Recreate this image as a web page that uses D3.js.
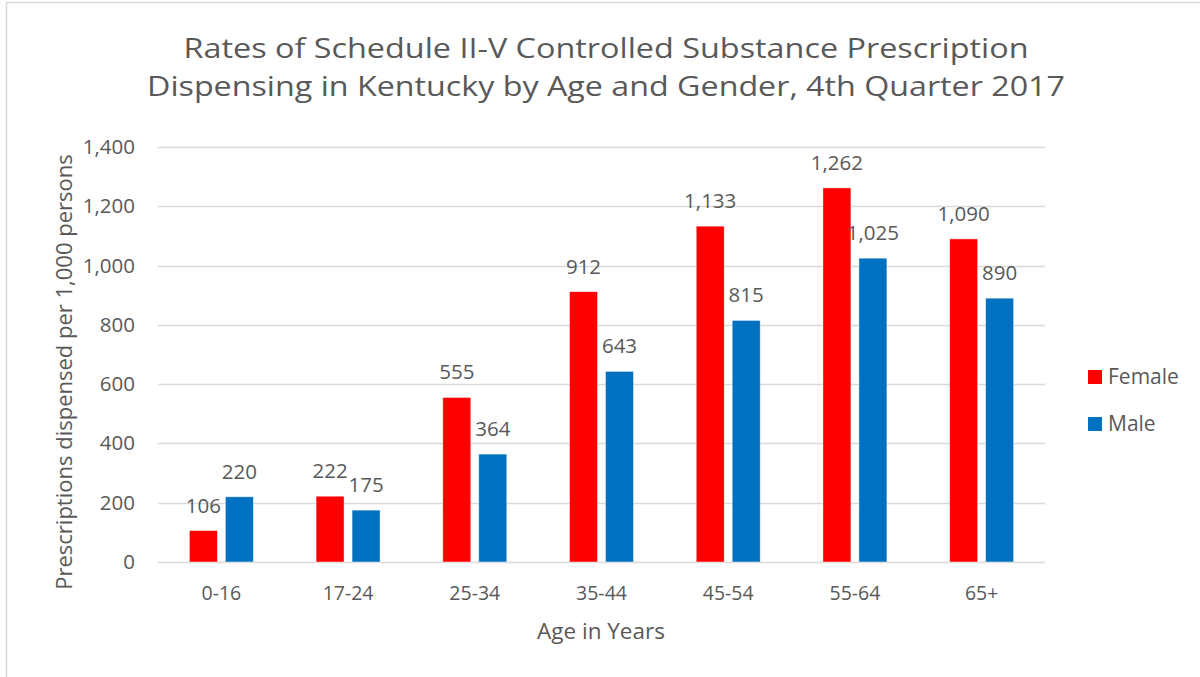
<!DOCTYPE html>
<html>
<head>
<meta charset="utf-8">
<script src="https://cdn.jsdelivr.net/npm/d3@7"></script>
<style>
  body { margin: 0; background: #fff; }
  text { font-family: "Open Sans", "Noto Sans", sans-serif; fill: #595959; }
</style>
</head>
<body>
<div id="chart"></div>
<script>
const WIDTH = 1200;
const HEIGHT = 677;
const PLOT_LEFT = 158;
const PLOT_RIGHT = 1045;
const PLOT_TOP = 147;
const PLOT_BOTTOM = 562;

const ageGroups = ['0-16', '17-24', '25-34', '35-44', '45-54', '55-64', '65+'];
const femaleRates = [106, 222, 555, 912, 1133, 1262, 1090];
const maleRates = [220, 175, 364, 643, 815, 1025, 890];
const yTicks = [0, 200, 400, 600, 800, 1000, 1200, 1400];
const seriesNames = ['Female', 'Male'];
const seriesColors = ['#FF0000', '#0070C0'];
const titleLines = [
  'Rates of Schedule II-V Controlled Substance Prescription',
  'Dispensing in Kentucky by Age and Gender, 4th Quarter 2017'
];

let svg = d3.select('#chart').append('svg')
  .attr('width', WIDTH)
  .attr('height', HEIGHT);

// chart frame (runs off the right and bottom of the picture)
svg.append('rect')
  .attr('x', 6.5).attr('y', 2.5)
  .attr('width', 1300).attr('height', 800)
  .attr('fill', 'none')
  .attr('stroke', '#d9d9d9')
  .attr('stroke-width', 1.5);

let x = d3.scaleBand()
  .domain(ageGroups)
  .range([PLOT_LEFT, PLOT_RIGHT]);

let y = d3.scaleLinear()
  .domain([0, 1400])
  .range([PLOT_BOTTOM, PLOT_TOP]);

let step = x.step();
let barW = step * 0.221;
let barGap = step * 0.063;

// gridlines
svg.append('g').attr('class', 'gridGroup')
  .selectAll('line')
  .data(yTicks)
  .enter()
  .append('line')
  .attr('x1', PLOT_LEFT)
  .attr('x2', PLOT_RIGHT)
  .attr('y1', (d) => Math.round(y(d)) + 0.5)
  .attr('y2', (d) => Math.round(y(d)) + 0.5)
  .attr('stroke', '#d9d9d9')
  .attr('stroke-width', 1.5);

// y tick labels
let fmt = d3.format(',');
svg.append('g').attr('class', 'yAxisGroup')
  .selectAll('text')
  .data(yTicks)
  .enter()
  .append('text')
  .attr('x', 135)
  .attr('y', (d) => y(d) + 7)
  .attr('text-anchor', 'end')
  .attr('font-size', 20.5)
  .text((d) => fmt(d));

// x category labels
svg.append('g').attr('class', 'xAxisGroup')
  .selectAll('text')
  .data(ageGroups)
  .enter()
  .append('text')
  .attr('x', (d) => x(d) + step / 2)
  .attr('y', 600)
  .attr('text-anchor', 'middle')
  .attr('font-size', 19.5)
  .text((d) => d);

// bars
let series = [femaleRates, maleRates];
let barData = [];
series.forEach((values, s) => {
  values.forEach((v, i) => {
    let center = x(ageGroups[i]) + step / 2;
    let left = s === 0 ? center - barGap / 2 - barW : center + barGap / 2;
    barData.push({ value: v, left: left, color: seriesColors[s] });
  });
});

let barGroup = svg.append('g').attr('class', 'barGroup');
barGroup.selectAll('rect')
  .data(barData)
  .enter()
  .append('rect')
  .attr('x', (d) => d.left)
  .attr('y', (d) => y(d.value))
  .attr('width', barW)
  .attr('height', (d) => y(0) - y(d.value))
  .attr('fill', (d) => d.color)
  .attr('stroke', '#ffffff')
  .attr('stroke-opacity', 0.6)
  .attr('stroke-width', 0.75);

barGroup.selectAll('text')
  .data(barData)
  .enter()
  .append('text')
  .attr('x', (d) => d.left + barW / 2)
  .attr('y', (d) => y(d.value) - 18)
  .attr('text-anchor', 'middle')
  .attr('font-size', 20.5)
  .text((d) => fmt(d.value));

// title, stretched to the width of the original lines
let title = svg.append('g').attr('class', 'titleGroup');
[[58, 845], [96, 918]].forEach(([baseline, len], i) => {
  title.append('text')
    .attr('x', 606)
    .attr('y', baseline)
    .attr('text-anchor', 'middle')
    .attr('font-size', 28)
    .attr('textLength', len)
    .attr('lengthAdjust', 'spacingAndGlyphs')
    .text(titleLines[i]);
});

// axis titles
svg.append('text')
  .attr('transform', 'translate(72,372) rotate(-90)')
  .attr('text-anchor', 'middle')
  .attr('font-size', 22)
  .text('Prescriptions dispensed per 1,000 persons');

svg.append('text')
  .attr('x', 601)
  .attr('y', 639)
  .attr('text-anchor', 'middle')
  .attr('font-size', 22.5)
  .text('Age in Years');

// legend
let legend = svg.append('g').attr('class', 'legendGroup')
  .selectAll('g')
  .data(seriesNames)
  .enter()
  .append('g')
  .attr('transform', (d, i) => `translate(1088,${370 + i * 47})`);

legend.append('rect')
  .attr('width', 14)
  .attr('height', 14)
  .attr('fill', (d, i) => seriesColors[i]);

legend.append('text')
  .attr('x', 20)
  .attr('y', 14)
  .attr('font-size', 21)
  .text((d) => d);
</script>
</body>
</html>
